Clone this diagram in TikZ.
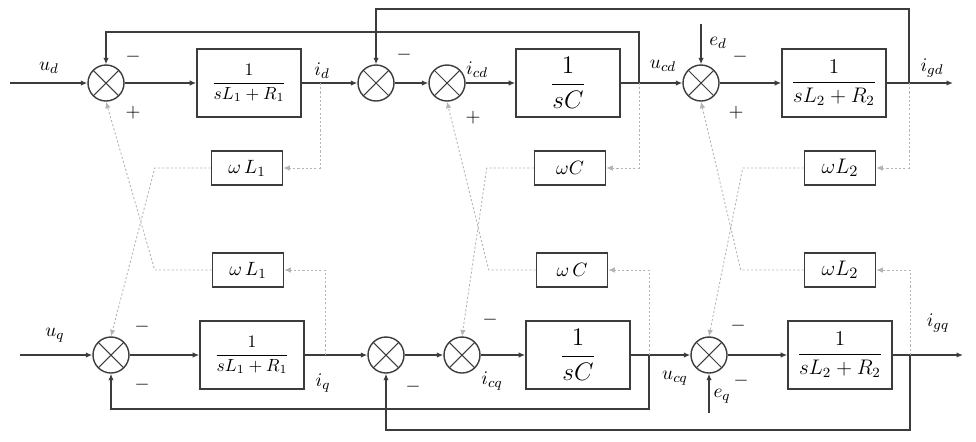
\documentclass[tikz,border=0pt]{standalone}
\usepackage{amsmath}
\usetikzlibrary{arrows.meta,positioning,calc}
\definecolor{clinea}{HTML}{3C3C3C}
\definecolor{cpunto}{HTML}{B4B4B4}
\tikzset{
  bloque/.style={draw=clinea,line width=0.9pt,minimum width=20.8mm,minimum height=13.6mm,
                 inner sep=1pt,font=\fontsize{10}{11}\selectfont},
  bloquec/.style={bloque,font=\fontsize{14}{15}\selectfont},
  bloquel/.style={bloque,font=\fontsize{12}{13}\selectfont},
  caja/.style={draw=clinea,line width=0.9pt,minimum width=14.2mm,minimum height=6.8mm,
               inner sep=1pt,font=\fontsize{11}{12}\selectfont},
  cajal/.style={caja,font=\fontsize{13}{14}\selectfont},
  sumador/.style={draw=clinea,line width=0.8pt,circle,minimum size=7.2mm,inner sep=0pt,
                  path picture={\draw[clinea,line width=0.6pt]
                    (path picture bounding box.north west) -- (path picture bounding box.south east)
                    (path picture bounding box.north east) -- (path picture bounding box.south west);}},
  flecha/.style={-{Latex[length=1.3mm,width=1.1mm]},draw=clinea,line width=0.8pt},
  punteada/.style={-{Latex[length=1.3mm,width=1.1mm]},draw=cpunto,line width=0.5pt,
                   dash pattern=on 1.2pt off 1.2pt},
  et/.style={font=\fontsize{11}{12}\selectfont,inner sep=1pt},
  signo/.style={font=\fontsize{11}{12}\selectfont,inner sep=0pt},
}

\begin{document}
\begin{tikzpicture}[x=0.02cm,y=-0.02cm]

\useasboundingbox (0,0) rectangle (976,441);

\node[sumador] (s1) at (106,83) {};
\node[bloque] (g1) at (249,83) {$\dfrac{1}{sL_1+R_1}$};
\node[sumador] (s2) at (376,83) {};
\node[sumador] (s3) at (447,83) {};
\node[bloquec] (g2) at (568,83) {$\dfrac{1}{sC}$};
\node[sumador] (s4) at (701,83) {};
\node[bloquel] (g3) at (834,83) {$\dfrac{1}{sL_2+R_2}$};

\node[sumador] (t1) at (111,355) {};
\node[bloque] (h1) at (252,355) {$\dfrac{1}{sL_1+R_1}$};
\node[sumador] (t2) at (386,355) {};
\node[sumador] (t3) at (462,355) {};
\node[bloquec] (h2) at (578,355) {$\dfrac{1}{sC}$};
\node[sumador] (t4) at (709,355) {};
\node[bloquel] (h3) at (840,355) {$\dfrac{1}{sL_2+R_2}$};

\node[caja] (wld) at (247,168) {$\omega\,L_1$};
\node[caja] (wcd) at (570,168) {$\omega C$};
\node[cajal] (wmd) at (840,168) {$\omega L_2$};
\node[caja] (wlq) at (248,270) {$\omega\,L_1$};
\node[caja] (wcq) at (572,270) {$\omega\,C$};
\node[cajal] (wmq) at (840,270) {$\omega L_2$};

\coordinate (ud) at (10,83);
\coordinate (id) at (320,83);
\coordinate (ucd) at (639,83);
\coordinate (igd) at (909,83);
\coordinate (fd) at (953,83);
\coordinate (ed) at (701,24);
\coordinate (uq) at (20,355);
\coordinate (iq) at (325,355);
\coordinate (ucq) at (649,355);
\coordinate (igq) at (910,355);
\coordinate (fq) at (963,355);
\coordinate (eq) at (709,413);

\foreach \a/\b in {ud/s1,s1/g1,g1/s2,s2/s3,s3/g2,g2/s4,s4/g3,g3/fd,
                   uq/t1,t1/h1,h1/t2,t2/t3,t3/h2,h2/t4,t4/h3,h3/fq}{\draw[flecha] (\a) -- (\b);}
\draw[flecha] (ucd) -- ++(0,-51) -| (s1.north);
\draw[flecha] (igd) -- ++(0,-74) -| (s2.north);
\draw[flecha] (ucq) -- ++(0,54) -| (t1.south);
\draw[flecha] (igq) -- ++(0,75) -| (t2.south);
\draw[flecha] (ed) -- (s4.north);
\draw[flecha] (eq) -- (t4.south);

\foreach \p/\c in {id/wld,iq/wlq,ucd/wcd,ucq/wcq,igd/wmd,igq/wmq}{\draw[punteada] (\p) |- (\c.east);}
\draw[punteada] (wld.west) -- ++(-56,0) -- (t1.north);
\draw[punteada] (wlq.west) -- ++(-57,0) -- (s1.south);
\draw[punteada] (wcd.west) -- ++(-47,0) -- (t3.north);
\draw[punteada] (wcq.west) -- ++(-47,0) -- (s3.south);
\draw[punteada] (wmd.west) -- ++(-61,0) -- (t4.north);
\draw[punteada] (wmq.west) -- ++(-63,0) -- (s4.south);

\node[et] at (49,68) {$u_d$};
\node[et] at (322,71) {$i_d$};
\node[et] at (477,70) {$i_{cd}$};
\node[et] at (663,66) {$u_{cd}$};
\node[et] at (718,43) {$e_d$};
\node[et] at (932,68) {$i_{gd}$};
\node[et] at (55,335) {$u_q$};
\node[et] at (323,383) {$i_q$};
\node[et] at (492,381) {$i_{cq}$};
\node[et] at (675,378) {$u_{cq}$};
\node[et] at (722,396) {$e_q$};
\node[et] at (938,323) {$i_{gq}$};

\foreach \x/\y in {133/57,404/55,740/57,142/327,142/385,413/387,490/320,738/326,741/381}{\node[signo] at (\x,\y) {$-$};}
\foreach \x/\y in {133/113,473/118,736/113}{\node[signo] at (\x,\y) {$+$};}

\end{tikzpicture}
\end{document}
